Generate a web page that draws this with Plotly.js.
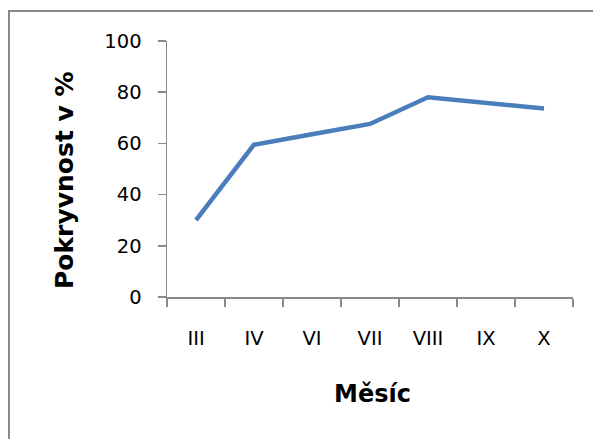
<!DOCTYPE html>
<html>
<head>
<meta charset="utf-8">
<script src="https://cdn.plot.ly/plotly-3.0.1.min.js"></script>
<style>
  html, body { margin: 0; padding: 0; background: #fff; }
  #chart { width: 593px; height: 439px; }
</style>
</head>
<body>
<div id="chart"></div>
<script>
// Months of the season (Roman numerals) and plant cover in percent
const months = ["III", "IV", "VI", "VII", "VIII", "IX", "X"];
const coverage = [30, 59.5, 63.6, 67.6, 78.0, 75.8, 73.6];

const yTicks = [0, 20, 40, 60, 80, 100];

const W = 593, H = 439;
const M = { l: 167, r: 20, t: 41, b: 142 };
const plotW = W - M.l - M.r, plotH = H - M.t - M.b;
// convert pixel positions to paper fractions of the plot area
const px = x => (x - M.l) / plotW;
const py = y => (H - M.b - y) / plotH;

const axisColor = "#898989";
const font = "DejaVu Sans, sans-serif";

const trace = {
  type: "scatter",
  mode: "lines",
  x: months,
  y: coverage,
  line: { color: "#4A7EBB", width: 4.5 },
  hoverinfo: "skip"
};

const layout = {
  width: W,
  height: H,
  margin: M,
  paper_bgcolor: "#fff",
  plot_bgcolor: "#fff",
  showlegend: false,
  font: { family: font, color: "#000", size: 19.5 },
  xaxis: {
    type: "category",
    showgrid: false,
    zeroline: false,
    showline: true,
    linecolor: axisColor,
    linewidth: 1.5,
    ticks: "outside",
    tickson: "boundaries",
    ticklen: 8,
    tickwidth: 1.5,
    tickcolor: axisColor,
    ticklabelstandoff: 23,
    tickfont: { family: font, size: 19.5, color: "#000" },
    range: [-0.5, months.length - 0.5]
  },
  yaxis: {
    range: [0, 100],
    tickvals: yTicks,
    ticktext: yTicks.map(String),
    showgrid: false,
    zeroline: false,
    showline: true,
    linecolor: axisColor,
    linewidth: 1.5,
    ticks: "outside",
    ticklen: 8,
    tickwidth: 1.5,
    tickcolor: axisColor,
    ticklabelstandoff: 12,
    tickfont: { family: font, size: 19.5, color: "#000" }
  },
  annotations: [
    {
      text: "<b>Pokryvnost v %</b>",
      xref: "paper", yref: "paper",
      x: px(64), y: py(180),
      xanchor: "center", yanchor: "middle",
      textangle: -90,
      showarrow: false,
      font: { family: font, size: 25, color: "#000" }
    },
    {
      text: "<b>Měsíc</b>",
      xref: "paper", yref: "paper",
      x: px(372), y: py(394),
      xanchor: "center", yanchor: "middle",
      showarrow: false,
      font: { family: font, size: 24, color: "#000" }
    }
  ],
  shapes: [
    {
      // chart frame
      type: "rect",
      xref: "paper", yref: "paper",
      x0: px(9), x1: px(W + 20),
      y0: py(H + 20), y1: py(11),
      line: { color: "#8a8a8a", width: 2 },
      fillcolor: "rgba(0,0,0,0)",
      layer: "above"
    }
  ]
};

Plotly.newPlot("chart", [trace], layout, { staticPlot: true, displayModeBar: false });
</script>
</body>
</html>
